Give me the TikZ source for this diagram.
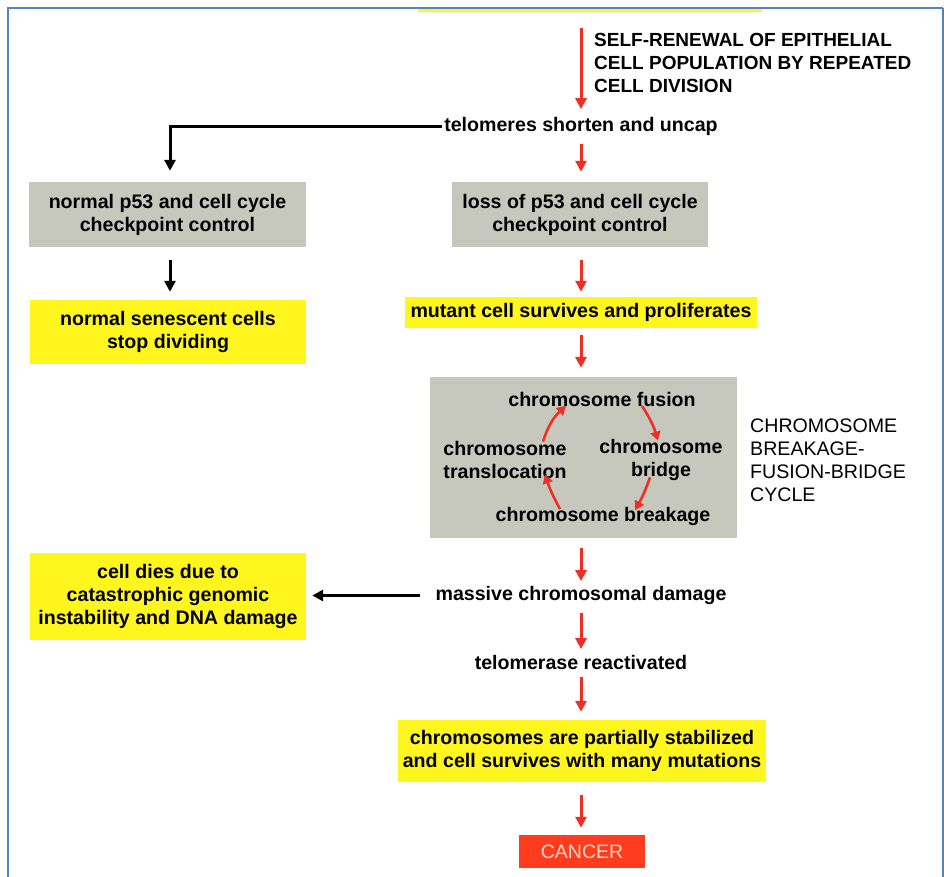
\documentclass[tikz,border=0pt]{standalone}
\usepackage{fontspec}
\setmainfont{Liberation Sans}
\usetikzlibrary{arrows.meta,calc}

\definecolor{frameblue}{RGB}{84,130,200}
\definecolor{boxyellow}{RGB}{255,246,30}
\definecolor{boxgray}{RGB}{198,200,190}
\definecolor{arrowred}{RGB}{238,48,36}
\definecolor{cancerred}{RGB}{255,60,30}
\definecolor{cancertext}{RGB}{255,215,200}

\begin{document}
\begin{tikzpicture}[x=1pt,y=-1pt,
  lbl/.style={font=\fontsize{19.6}{23}\selectfont\bfseries, align=center, inner sep=0pt},
  caplbl/.style={font=\fontsize{19.6}{23}\selectfont, align=left, inner sep=0pt, anchor=west},
  graybox/.style={lbl, fill=boxgray},
  yellowbox/.style={lbl, fill=boxyellow},
  redarrow/.style={draw=arrowred, line width=3pt, -{Triangle[length=11pt,width=11pt]},
    shorten <=8pt, shorten >=7pt},
  blackarrow/.style={draw=black, line width=3pt, -{Triangle[length=11pt,width=11pt]}},
  cyclearrow/.style={draw=arrowred, line width=2.6pt, -{Triangle[length=9pt,width=10pt]}}]

\useasboundingbox (0,0) rectangle (944,877);

% page frame
\draw[frameblue, line width=2pt] (7.5,877) -- (7.5,8.5) -- (943,8.5);
\draw[frameblue, line width=1.5pt] (943,8.5) -- (943,877);
% lower edge of the box above
\fill[boxyellow] (418,9.5) rectangle (762,12);

% main column
\coordinate (start) at (581,28);
\node[caplbl, font=\fontsize{19}{23}\selectfont\bfseries] (renew) at (594,63)
  {SELF-RENEWAL OF EPITHELIAL\\CELL POPULATION BY REPEATED\\CELL DIVISION};
\node[lbl] (telo) at (581,126.5) {telomeres shorten and uncap};
\node[graybox, minimum width=256pt, minimum height=65pt] (loss) at (580,214.5)
  {loss of p53 and cell cycle\\checkpoint control};
\node[yellowbox, minimum width=352pt, minimum height=31pt] (mutant) at (581,312.5)
  {mutant cell survives and proliferates};
\node[graybox, minimum width=307pt, minimum height=161pt] (cycle) at (583.5,457.5) {};
\node[lbl] (fusion) at (602,399.5) {chromosome fusion};
\node[lbl] (trans) at (505,459.5) {chromosome\\translocation};
\node[lbl] (bridge) at (661,459.5) {chromosome\\bridge};
\node[lbl] (breakage) at (603,516.5) {chromosome breakage};
\node[caplbl] (bfb) at (750,460) {CHROMOSOME\\BREAKAGE-\\FUSION-BRIDGE\\CYCLE};
\node[lbl] (massive) at (581,595.5) {massive chromosomal damage};
\node[lbl] (telomerase) at (581,662.5) {telomerase reactivated};
\node[yellowbox, minimum width=368pt, minimum height=62pt] (stab) at (582,751)
  {chromosomes are partially stabilized\\and cell survives with many mutations};
\node[fill=cancerred, minimum width=126pt, minimum height=33pt, inner sep=0pt,
  font=\fontsize{19.5}{22}\selectfont, text=cancertext] (cancer) at (582,851.5) {CANCER};

% left column
\node[graybox, minimum width=277pt, minimum height=65pt] (normal) at (167.5,214.5)
  {normal p53 and cell cycle\\checkpoint control};
\node[yellowbox, minimum width=276pt, minimum height=64pt] (senescent) at (168,332)
  {normal senescent cells\\stop dividing};
\node[yellowbox, minimum width=276pt, minimum height=87pt] (dies) at (168,596.5)
  {cell dies due to\\catastrophic genomic\\instability and DNA damage};

% red arrows down the main column
\draw[redarrow, shorten <=0pt, shorten >=8pt] (start) -- (telo.north -| start);
\draw[redarrow, shorten >=10pt] (telo.south -| start) -- (loss.north -| start);
\draw[redarrow, shorten <=13pt, shorten >=5pt] (loss.south -| start) -- (mutant.north -| start);
\draw[redarrow, shorten <=7pt, shorten >=9pt] (mutant.south -| start) -- (cycle.north -| start);
\draw[redarrow, shorten <=10pt, shorten >=5pt] (cycle.south -| start) -- (massive.north -| start);
\draw[redarrow, shorten >=6pt] (massive.south -| start) -- (telomerase.north -| start);
\draw[redarrow, shorten <=7pt, shorten >=8pt] (telomerase.south -| start) -- (stab.north -| start);
\draw[redarrow, shorten <=13pt, shorten >=7pt] (stab.south -| start) -- (cancer.north -| start);

% black arrows to the left column
\draw[blackarrow, shorten >=11pt] ([xshift=-2pt]telo.west) -| (normal.north -| 170,0);
\draw[blackarrow, shorten <=13pt, shorten >=8pt] (normal.south -| 170,0) -- (senescent.north -| 170,0);
\draw[blackarrow, shorten <=15pt, shorten >=6pt] (massive.west) -- (dies.east |- massive.west);

% breakage-fusion-bridge cycle
\draw[cyclearrow] ([xshift=38pt,yshift=-1pt]trans.north) to[bend left=15] ([xshift=-36pt,yshift=1pt]fusion.south);
\draw[cyclearrow] ([xshift=40pt,yshift=1pt]fusion.south) to[bend left=8] ([xshift=-3pt,yshift=-2pt]bridge.north);
\draw[cyclearrow] ([xshift=-11pt,yshift=3pt]bridge.south) to[bend left=5] ([xshift=32pt,yshift=-3pt]breakage.north);
\draw[cyclearrow] ([xshift=-43pt,yshift=-2pt]breakage.north) to[bend left=5] ([xshift=40pt,yshift=4pt]trans.south);

\end{tikzpicture}
\end{document}
